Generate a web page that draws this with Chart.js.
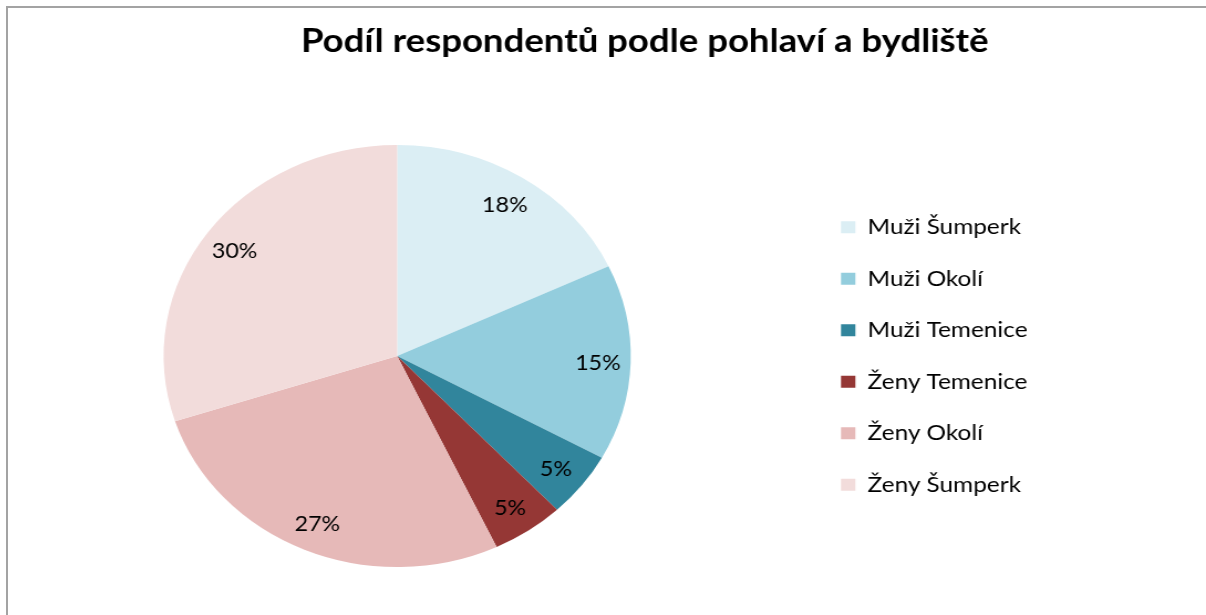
<!DOCTYPE html>
<html lang="cs">
<head>
<meta charset="utf-8">
<title>Podíl respondentů podle pohlaví a bydliště</title>
<script src="https://cdn.jsdelivr.net/npm/chart.js@4/dist/chart.umd.min.js"></script>
<style>
  html, body { margin: 0; padding: 0; background: #fff; overflow: hidden; }
  #wrap { position: relative; width: 1206px; height: 615px; overflow: hidden; }
  /* the sheet chart is wider than the shot, so only left/top frame shows */
  #frame { position: absolute; left: 6px; top: 6px; width: 1400px; height: 800px;
           border: 2px solid #a3a3a3; box-sizing: border-box; }
  #chart { position: absolute; left: -14px; top: 0; }
</style>
</head>
<body>
<div id="wrap">
  <div id="frame"></div>
  <!-- drawn at 1102 wide and stretched like the original screenshot -->
  <canvas id="chart" width="1102" height="615" style="width:1220px;height:615px"></canvas>
</div>
<script>
const chartTitle = "Podíl respondentů podle pohlaví a bydliště";
const categories = ["Muži Šumperk", "Muži Okolí", "Muži Temenice", "Ženy Temenice", "Ženy Okolí", "Ženy Šumperk"];
const shares = [18, 15, 5, 5, 27, 30];
const sliceColors = ["#dbeef4", "#93cddd", "#31859c", "#953735", "#e6b9b8", "#f2dcdb"];

const legendFont = 22;
const legendPad = 29.5;

// legend has to start at a fixed spot, so size the right padding from the text
const measure = document.createElement("canvas").getContext("2d");
measure.font = legendFont + "px Lato";
const longest = Math.max(...categories.map((c) => measure.measureText(c).width));
const legendWidth = legendPad + 13 + legendFont / 2 + longest + 10;
const padRight = 1102 - 742.8 - legendWidth;

// percentage labels near the outer edge of each slice
const sliceLabels = {
  id: "sliceLabels",
  afterDatasetsDraw(chart) {
    const ctx = chart.ctx;
    const data = chart.data.datasets[0].data;
    const total = data.reduce((a, b) => a + b, 0);
    ctx.save();
    ctx.font = "21px Lato";
    ctx.fillStyle = "#000";
    ctx.textAlign = "center";
    ctx.textBaseline = "middle";
    chart.getDatasetMeta(0).data.forEach((arc, i) => {
      const mid = (arc.startAngle + arc.endAngle) / 2;
      const r = arc.outerRadius * 0.86;
      const x = arc.x + Math.cos(mid) * r;
      const y = arc.y + Math.sin(mid) * r + 2;
      ctx.fillText(Math.round((data[i] / total) * 100) + "%", x, y);
    });
    ctx.restore();
  },
};

// title sits centred on the whole sheet chart, not on the plot
const sheetTitle = {
  id: "sheetTitle",
  afterDraw(chart) {
    const ctx = chart.ctx;
    ctx.save();
    ctx.font = "bold 33px Lato";
    ctx.fillStyle = "#000";
    ctx.textAlign = "center";
    ctx.textBaseline = "alphabetic";
    ctx.fillText(chartTitle, 595, 52);
    ctx.restore();
  },
};

Chart.defaults.font.family = "Lato";
Chart.defaults.color = "#000";

new Chart(document.getElementById("chart"), {
  type: "pie",
  data: {
    labels: categories,
    datasets: [
      {
        data: shares,
        backgroundColor: sliceColors,
        borderWidth: 0,
      },
    ],
  },
  options: {
    responsive: false,
    animation: false,
    events: [],
    layout: {
      padding: { left: 0, right: padRight, top: 145, bottom: 48 },
    },
    plugins: {
      legend: {
        position: "right",
        labels: {
          boxWidth: 13,
          boxHeight: 12,
          padding: legendPad,
          font: { size: legendFont },
          color: "#000",
        },
      },
      title: { display: false },
      tooltip: { enabled: false },
    },
  },
  plugins: [sliceLabels, sheetTitle],
});
</script>
</body>
</html>
